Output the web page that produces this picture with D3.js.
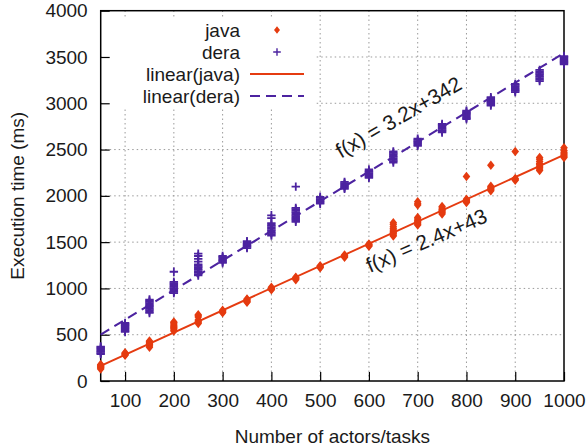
<!DOCTYPE html>
<html>
<head>
<meta charset="utf-8">
<script src="https://cdn.jsdelivr.net/npm/d3@7"></script>
<style>
  html, body { margin: 0; padding: 0; background: #fff; }
  svg { display: block; font-family: "Liberation Sans", Arial, sans-serif; }
</style>
</head>
<body>
<svg id="chart" width="587" height="448"></svg>
<script>
// Problem sizes (number of actors/tasks)
const sizes = [50, 100, 150, 200, 250, 300, 350, 400, 450, 500,
               550, 600, 650, 700, 750, 800, 850, 900, 950, 1000];

// Execution times (ms) of the repeated runs at each size
const javaRuns = [
  [130, 140, 148, 155, 162, 170, 178],
  [278, 286, 292, 298, 305],
  [365, 378, 388, 397, 405, 414, 423, 432],
  [540, 552, 566, 578, 590, 603, 615, 628, 638],
  [622, 634, 646, 658, 690, 705, 715],
  [738, 746, 755, 763],
  [850, 860, 868, 877, 886],
  [985, 995, 1003, 1012],
  [1095, 1105, 1113, 1122],
  [1222, 1230, 1238, 1246],
  [1338, 1346, 1354, 1362],
  [1456, 1464, 1472, 1480],
  [1565, 1578, 1592, 1605, 1618, 1632, 1648, 1665, 1690, 1710],
  [1685, 1697, 1710, 1722, 1735, 1750, 1765, 1900, 1915, 1935],
  [1805, 1817, 1829, 1841, 1853, 1870, 1885],
  [1928, 1940, 1952, 1964, 2210],
  [2055, 2068, 2080, 2092, 2104, 2330],
  [2168, 2178, 2188, 2480],
  [2275, 2290, 2305, 2320, 2335, 2350, 2370, 2395, 2415],
  [2415, 2428, 2440, 2455, 2470, 2490, 2520]
];

const deraRuns = [
  [290, 302, 314, 326, 338, 350, 362, 372],
  [530, 542, 555, 568, 580, 592, 605, 618, 628],
  [735, 750, 765, 780, 795, 810, 825, 840, 855, 868, 880],
  [950, 963, 976, 990, 1003, 1016, 1030, 1043, 1056, 1070, 1180],
  [1140, 1155, 1170, 1185, 1200, 1215, 1230, 1245, 1260, 1290, 1320, 1350, 1375],
  [1275, 1288, 1300, 1312, 1325, 1338, 1350],
  [1435, 1448, 1460, 1472, 1485, 1498, 1510],
  [1570, 1585, 1600, 1615, 1630, 1645, 1660, 1675, 1690, 1705, 1760, 1790],
  [1720, 1735, 1750, 1765, 1780, 1795, 1810, 1825, 1840, 1855, 1870, 2100],
  [1915, 1928, 1940, 1952, 1965, 1978, 1990],
  [2075, 2088, 2100, 2112, 2125, 2138, 2150],
  [2195, 2208, 2220, 2232, 2245, 2258, 2270, 2285],
  [2360, 2375, 2390, 2405, 2420, 2435, 2450, 2465, 2480],
  [2540, 2553, 2566, 2579, 2592, 2605, 2618],
  [2685, 2698, 2711, 2724, 2737, 2750, 2763, 2776],
  [2830, 2843, 2856, 2869, 2882, 2895, 2908, 2920],
  [2975, 2988, 3001, 3014, 3027, 3040, 3053, 3066],
  [3120, 3133, 3146, 3159, 3172, 3185, 3198, 3210],
  [3240, 3255, 3270, 3285, 3300, 3315, 3330, 3345, 3360],
  [3420, 3433, 3446, 3459, 3472, 3485, 3498, 3510]
];

// Linear fits f(x) = slope * x + intercept
const javaFit = { slope: 2.4, intercept: 43 };
const deraFit = { slope: 3.2, intercept: 342 };

const xTicks = [100, 200, 300, 400, 500, 600, 700, 800, 900, 1000];
const yTicks = [0, 500, 1000, 1500, 2000, 2500, 3000, 3500, 4000];

const legendLabels = ["java", "dera", "linear(java)", "linear(dera)"];

const javaColor = "#e53b10";
const deraColor = "#4c23a0";
const textColor = "#1a1a1a";
const fontSize = 19;

const margin = { left: 100.7, right: 23, top: 10.7, bottom: 67 };
const W = 587, H = 448;
const svg = d3.select("#chart");

const x = d3.scaleLinear().domain([50, 1000]).range([margin.left, W - margin.right]);
const y = d3.scaleLinear().domain([0, 4000]).range([H - margin.bottom, margin.top]);

// Dotted grid
const grid = svg.append("g").attr("stroke", "#9a9a9a").attr("stroke-width", 1)
  .attr("stroke-dasharray", "1.5,3");
grid.selectAll(".gx").data(xTicks.filter(d => d < 1000)).join("line")
  .attr("x1", d => x(d)).attr("x2", d => x(d))
  .attr("y1", y(0)).attr("y2", y(4000));
grid.selectAll(".gy").data(yTicks.filter(d => d > 0 && d < 4000)).join("line")
  .attr("x1", x(50)).attr("x2", x(1000))
  .attr("y1", d => y(d)).attr("y2", d => y(d));

// Opaque legend area hides the grid behind it
svg.append("rect").attr("x", x(50) + 1).attr("y", 19).attr("width", 214).attr("height", 88)
  .attr("fill", "#fff");

// Axes with inward ticks
const fmt = d3.format("d");
const xAxis = d3.axisBottom(x).tickValues(xTicks).tickFormat(fmt).tickSize(-9);
const yAxis = d3.axisLeft(y).tickValues(yTicks).tickFormat(fmt).tickSize(-9).tickPadding(13);

const gx = svg.append("g").attr("transform", `translate(0,${y(0)})`).call(xAxis);
const gy = svg.append("g").attr("transform", `translate(${x(50)},0)`).call(yAxis);
[gx, gy].forEach(g => {
  g.select(".domain").remove();
  g.selectAll(".tick line").attr("stroke", "#000").attr("stroke-width", 1.2);
  g.selectAll(".tick text").attr("fill", textColor).attr("font-size", fontSize)
    .attr("font-family", "Liberation Sans, Arial, sans-serif");
});
gx.selectAll(".tick text").attr("dy", "0.35em").attr("y", 19);

// Frame
svg.append("rect").attr("x", x(50)).attr("y", y(4000))
  .attr("width", x(1000) - x(50)).attr("height", y(0) - y(4000))
  .attr("fill", "none").attr("stroke", "#000").attr("stroke-width", 1.5);

// Marker shapes
const diamond = (cx, cy, s) => `M${cx},${cy - s * 1.25}L${cx + s},${cy}L${cx},${cy + s * 1.25}L${cx - s},${cy}Z`;
const plus = (cx, cy, s) => `M${cx - s},${cy}H${cx + s}M${cx},${cy - s}V${cy + s}`;

const javaPts = sizes.flatMap((s, i) => javaRuns[i].map(v => [s, v]));
const deraPts = sizes.flatMap((s, i) => deraRuns[i].map(v => [s, v]));

svg.append("g").selectAll("path").data(javaPts).join("path")
  .attr("d", d => diamond(x(d[0]), y(d[1]), 3.8))
  .attr("fill", javaColor);

svg.append("g").selectAll("path").data(deraPts).join("path")
  .attr("d", d => plus(x(d[0]), y(d[1]), 4.2))
  .attr("stroke", deraColor).attr("stroke-width", 1.8).attr("fill", "none");

// Fitted lines
const fitLine = f => d3.line().x(d => x(d)).y(d => y(f.slope * d + f.intercept))([50, 1000]);
svg.append("path").attr("d", fitLine(javaFit)).attr("stroke", javaColor)
  .attr("stroke-width", 1.9).attr("fill", "none");
svg.append("path").attr("d", fitLine(deraFit)).attr("stroke", deraColor)
  .attr("stroke-width", 2.1).attr("stroke-dasharray", "10,6").attr("fill", "none");

// Fit equations written along the lines
const eqLabel = (f, xv, offset, angle) => {
  const px = x(xv), py = y(f.slope * xv + f.intercept) + offset;
  svg.append("text").attr("transform", `translate(${px},${py}) rotate(${angle})`)
    .attr("text-anchor", "middle").attr("font-size", 21).attr("fill", textColor)
    .text(`f(x) = ${f.slope}x+${f.intercept}`);
};
eqLabel(deraFit, 668, -28, -30);
eqLabel(javaFit, 724, 31, -23.5);

// Legend
const legend = svg.append("g").attr("font-size", fontSize).attr("fill", textColor);
const rowY = [30, 52, 74, 96];
legendLabels.forEach((t, i) => {
  legend.append("text").attr("x", 240).attr("y", rowY[i]).attr("dy", "0.35em")
    .attr("text-anchor", "end").attr("fill", textColor).text(t);
});
legend.append("path").attr("d", diamond(277, rowY[0], 3)).attr("fill", javaColor);
legend.append("path").attr("d", plus(277, rowY[1], 3.8)).attr("stroke", deraColor)
  .attr("stroke-width", 1.4);
legend.append("line").attr("x1", 250).attr("x2", 304).attr("y1", rowY[2]).attr("y2", rowY[2])
  .attr("stroke", javaColor).attr("stroke-width", 1.9);
legend.append("line").attr("x1", 250).attr("x2", 304).attr("y1", rowY[3]).attr("y2", rowY[3])
  .attr("stroke", deraColor).attr("stroke-width", 2.1).attr("stroke-dasharray", "10,6");

// Axis titles
svg.append("text").attr("x", x(525)).attr("y", 443).attr("text-anchor", "middle")
  .attr("font-size", fontSize).attr("fill", textColor).text("Number of actors/tasks");
svg.append("text").attr("transform", `translate(24,${y(2000)}) rotate(-90)`)
  .attr("text-anchor", "middle").attr("font-size", fontSize).attr("fill", textColor)
  .text("Execution time (ms)");
</script>
</body>
</html>
